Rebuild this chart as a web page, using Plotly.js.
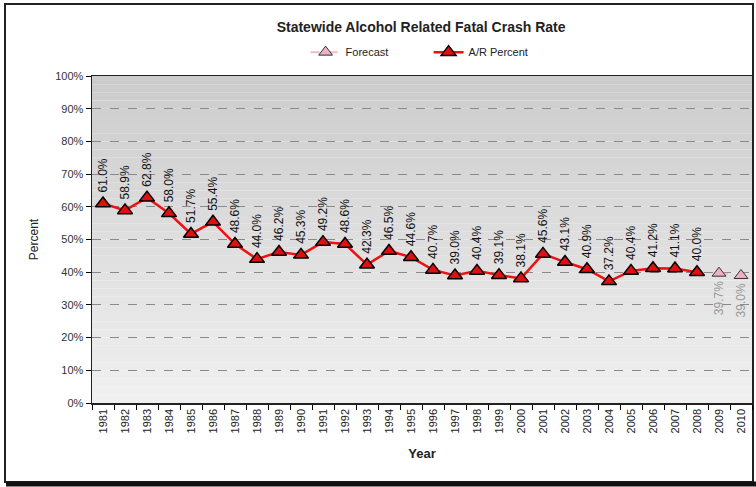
<!DOCTYPE html>
<html>
<head>
<meta charset="utf-8">
<script src="https://cdn.plot.ly/plotly-3.0.1.min.js"></script>
<style>
html,body{margin:0;padding:0;background:#fff;}
#chart{width:756px;height:487px;}
</style>
</head>
<body>
<div id="chart"></div>
<script>
const years = ['1981','1982','1983','1984','1985','1986','1987','1988','1989','1990',
  '1991','1992','1993','1994','1995','1996','1997','1998','1999','2000',
  '2001','2002','2003','2004','2005','2006','2007','2008'];
const arPercent = [61.0,58.9,62.8,58.0,51.7,55.4,48.6,44.0,46.2,45.3,
  49.2,48.6,42.3,46.5,44.6,40.7,39.0,40.4,39.1,38.1,
  45.6,43.1,40.9,37.2,40.4,41.2,41.1,40.0];
const forecastYears = ['2009','2010'];
const forecastValues = [39.7,39.0];
const allYears = years.concat(forecastYears);
const yTicks = [0,10,20,30,40,50,60,70,80,90,100];

const W = 756, H = 487, L = 92, R = 4, T = 76, B = 84;
const pw = W - L - R, ph = H - T - B;

// gradient background bands
const shapes = [];
const n = 40;
for (let i = 0; i < n; i++) {
  const f = i / (n - 1);
  const c = Math.round(204 + (240 - 204) * f);
  shapes.push({type:'rect', xref:'paper', yref:'paper', layer:'below',
    x0:0, x1:1, y0:1 - (i+1)/n, y1:1 - i/n,
    fillcolor:`rgb(${c},${c},${c})`, line:{width:0}});
}
// outer frame
const px = v => (v - L) / pw;
const py = v => (H - B - v) / ph;
shapes.push({type:'rect', xref:'paper', yref:'paper', x0:px(5), x1:px(753), y0:py(482), y1:py(4),
  line:{color:'#222', width:2}, fillcolor:'rgba(0,0,0,0)', layer:'below'});
shapes.push({type:'line', xref:'paper', yref:'paper', x0:px(6), x1:px(756), y0:py(484), y1:py(484),
  line:{color:'#111', width:5}});

// annotation x positions use category index on the category axis
const annotations = [];
years.forEach((y, i) => {
  annotations.push({x:allYears.indexOf(y), y:arPercent[i], xref:'x', yref:'y', text:arPercent[i].toFixed(1)+'%',
    textangle:-90, showarrow:false, yanchor:'bottom', yshift:9,
    font:{family:'Liberation Sans, Arial', size:12, color:'#111'}});
});
forecastYears.forEach((y, i) => {
  annotations.push({x:allYears.indexOf(y), y:forecastValues[i], xref:'x', yref:'y', text:forecastValues[i].toFixed(1)+'%',
    textangle:-90, showarrow:false, yanchor:'top', yshift:-6,
    font:{family:'Liberation Sans, Arial', size:12, color:'#999'}});
});

const data = [
  {x:forecastYears, y:forecastValues, name:'Forecast', type:'scatter', mode:'lines+markers',
   line:{color:'#f2b8cc', width:2, dash:'dash'},
   marker:{symbol:'triangle-up', size:12, color:'#eeb0c6', line:{color:'#333', width:1}}},
  {x:years, y:arPercent, name:'A/R Percent', type:'scatter', mode:'lines+markers',
   line:{color:'#ee1111', width:2.5},
   marker:{symbol:'triangle-up', size:13, color:'#e01010', line:{color:'#000', width:1.5}}}
];

const layout = {
  width:W, height:H,
  margin:{l:L, r:R, t:T, b:B},
  paper_bgcolor:'#ffffff', plot_bgcolor:'rgba(0,0,0,0)',
  font:{family:'Liberation Sans, Arial', color:'#222'},
  title:{text:'<b>Statewide Alcohol Related Fatal Crash Rate</b>', x:0.557, xanchor:'center',
    y:1 - 27/H, yanchor:'middle', font:{size:14, color:'#222'}},
  showlegend:true,
  legend:{orientation:'h', x:0.51, xanchor:'center', y:1.073, yanchor:'middle', entrywidth:78,
    font:{size:11, color:'#222'}, bgcolor:'rgba(0,0,0,0)'},
  xaxis:{type:'category', categoryorder:'array', categoryarray:allYears, range:[-0.5, 29.5],
    tickson:'boundaries', ticks:'outside', ticklen:5, tickcolor:'#000', tickangle:-90,
    tickfont:{size:11, color:'#222'}, showline:true, linecolor:'#222', linewidth:1.5, mirror:true,
    showgrid:false, zeroline:false,
    title:{text:'<b>Year</b>', font:{size:13, color:'#222'}, standoff:16}},
  yaxis:{range:[0,100], tickvals:yTicks, ticktext:yTicks.map(v => v + '%'),
    ticks:'outside', ticklen:5, tickcolor:'#000', tickfont:{size:11, color:'#333'},
    showline:true, linecolor:'#222', linewidth:1.5, mirror:true,
    showgrid:true, gridcolor:'#8a8a8a', griddash:'dash', gridwidth:1, zeroline:false,
    title:{text:'Percent', font:{size:12, color:'#222'}, standoff:14}},
  shapes:shapes,
  annotations:annotations
};

Plotly.newPlot('chart', data, layout, {displayModeBar:false, staticPlot:true});
</script>
</body>
</html>
